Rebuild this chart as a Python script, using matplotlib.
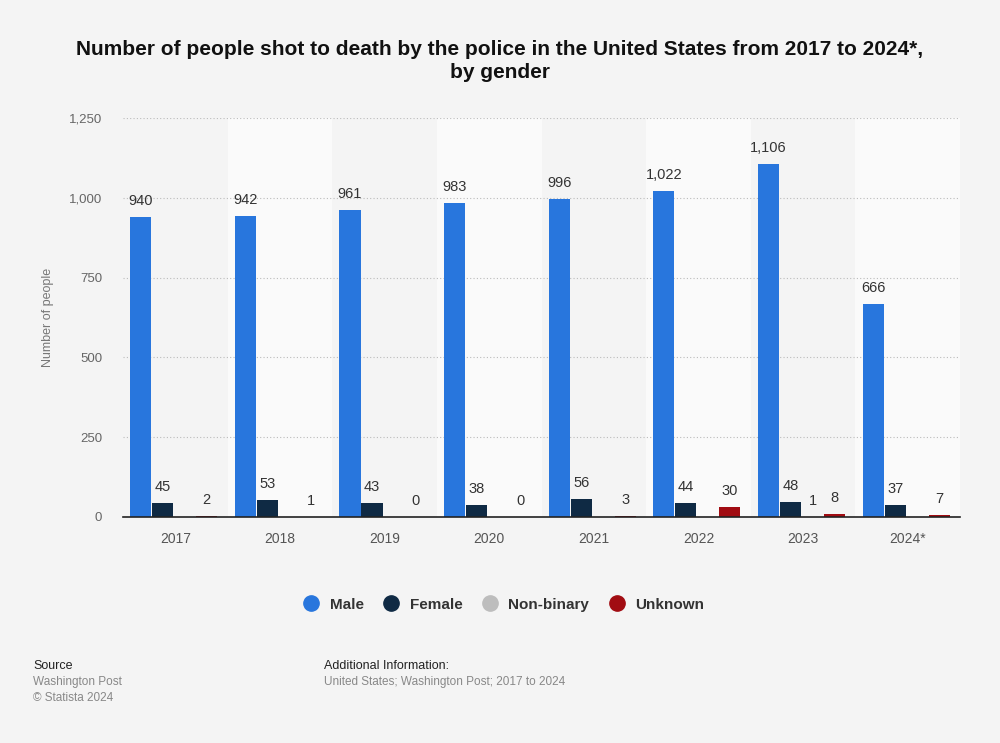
import matplotlib
matplotlib.use("Agg")
import matplotlib.pyplot as plt
from matplotlib.lines import Line2D
import numpy as np

plt.rcParams['font.family'] = ['Liberation Sans', 'DejaVu Sans']

years = ["2017", "2018", "2019", "2020", "2021", "2022", "2023", "2024*"]
male = [940, 942, 961, 983, 996, 1022, 1106, 666]
female = [45, 53, 43, 38, 56, 44, 48, 37]
nonbinary = [None, None, None, None, None, None, 1, None]
unknown = [2, 1, 0, 0, 3, 30, 8, 7]
series_names = ["Male", "Female", "Non-binary", "Unknown"]
colors = ["#2876dd", "#0f2a44", "#bdbdbd", "#a10c12"]

BG = "#f4f4f4"
fig = plt.figure(figsize=(10, 7.43), dpi=100, facecolor=BG)
ax = fig.add_axes([0.123, 0.3042, 0.837, 0.5370])
ax.set_facecolor(BG)

n = len(years)
x = np.arange(n)
for i in range(n):
    if i % 2 == 1:
        ax.axvspan(i - 0.5, i + 0.5, color="#fafafa", zorder=0, lw=0)

bw = 0.21
shift = -0.015
offsets = (np.arange(4) - 1.5) * bw + shift
all_series = [male, female, nonbinary, unknown]
for s, (vals, col) in enumerate(zip(all_series, colors)):
    for i, v in enumerate(vals):
        if v is None:
            continue
        xp = x[i] + offsets[s]
        ax.bar(xp, v, width=bw * 0.96, color=col, zorder=3, lw=0)
        label = f"{v:,}"
        ax.annotate(label, (xp, v), xytext=(0, 6.5), textcoords="offset points",
                    ha="center", va="bottom", fontsize=10.5, color="#333333", zorder=4)

ax.set_xlim(-0.5, n - 0.5)
ax.set_ylim(0, 1250)
ax.set_yticks([0, 250, 500, 750, 1000, 1250])
ax.set_yticklabels([f"{t:,}" for t in [0, 250, 500, 750, 1000, 1250]])
ax.set_xticks(x)
ax.set_xticklabels(years)
ax.tick_params(axis="y", length=0, pad=15, labelsize=9.5, labelcolor="#666666")
ax.tick_params(axis="x", length=0, pad=11, labelsize=10, labelcolor="#555555")
ax.grid(axis="y", linestyle=(0, (1, 2)), color="#bbbbbb", lw=0.8, zorder=1)
ax.grid(axis="x", visible=False)
for sp in ["top", "right", "left"]:
    ax.spines[sp].set_visible(False)
ax.spines["bottom"].set_color("#222222")
ax.spines["bottom"].set_linewidth(1.2)
ax.spines["bottom"].set_zorder(5)
ax.set_ylabel("Number of people", fontsize=9, color="#777777", labelpad=12)
ax.yaxis.set_label_coords(-0.082, 0.5)

fig.text(0.5, 0.934, "Number of people shot to death by the police in the United States from 2017 to 2024*,",
         ha="center", va="center", fontsize=15, fontweight="bold", color="#111111")
fig.text(0.5, 0.902, "by gender", ha="center", va="center", fontsize=15,
         fontweight="bold", color="#111111")

handles = [Line2D([0], [0], marker="o", linestyle="", markersize=11,
                  markerfacecolor=c, markeredgecolor=c) for c in colors]
leg = fig.legend(handles, series_names, loc="center", bbox_to_anchor=(0.5, 0.186),
                 ncol=4, frameon=False, handletextpad=0.2, columnspacing=0.8,
                 prop={"weight": "bold", "size": 11})
for t in leg.get_texts():
    t.set_color("#333333")

fig.text(0.033, 0.104, "Source", fontsize=9, color="#222222", va="center")
fig.text(0.033, 0.082, "Washington Post", fontsize=8.5, color="#888888", va="center")
fig.text(0.033, 0.061, "© Statista 2024", fontsize=8.5, color="#888888", va="center")
fig.text(0.324, 0.104, "Additional Information:", fontsize=9, color="#222222", va="center")
fig.text(0.324, 0.082, "United States; Washington Post; 2017 to 2024", fontsize=8.5,
         color="#888888", va="center")

fig.savefig("out.png", dpi=100, facecolor=BG)
